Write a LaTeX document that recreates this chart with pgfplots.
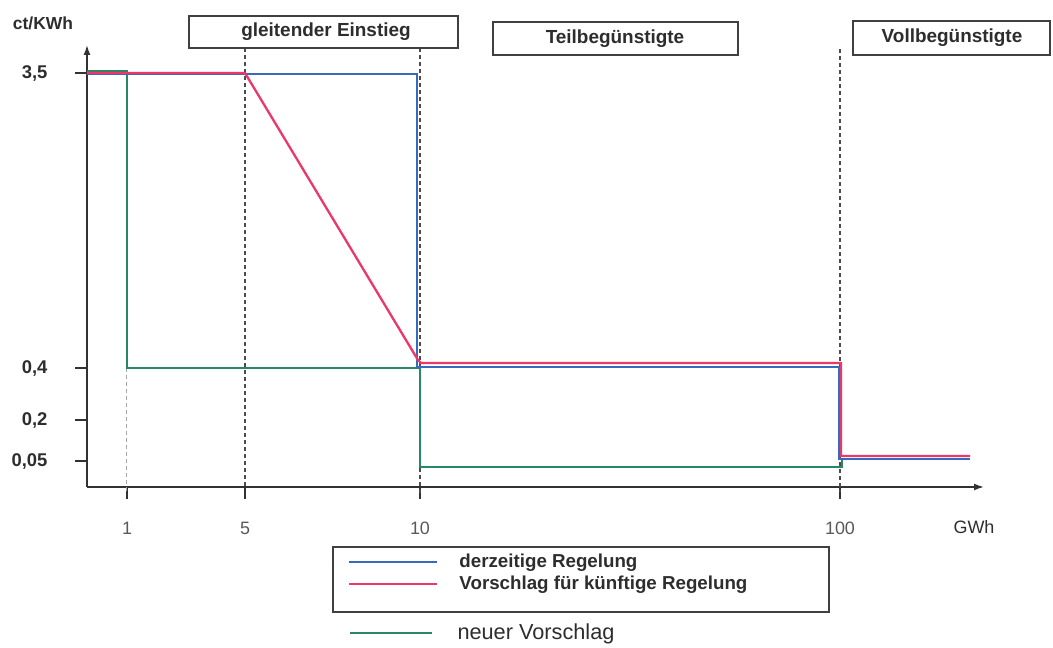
\documentclass[border=0pt]{standalone}
\usepackage{pgfplots}
\pgfplotsset{compat=1.18}
\usepackage{fontspec}
\setmainfont{Liberation Sans}
\usetikzlibrary{arrows.meta}
\definecolor{cblue}{RGB}{55,105,190}
\definecolor{cred}{RGB}{235,55,105}
\definecolor{cgreen}{RGB}{40,135,100}
\definecolor{axisgray}{RGB}{50,50,50}
\definecolor{txt}{RGB}{45,45,45}
\begin{document}
\begin{tikzpicture}
\begin{axis}[
  x=1bp, y=1bp, scale only axis,
  xmin=0, xmax=897, ymin=0, ymax=442,
  axis lines=left,
  axis line style={line width=1.6bp, draw=axisgray, -{Latex[length=10bp,width=7bp]}},
  clip=false,
  /pgf/number format/assume math mode=true,
  xtick={40,158,333,753},
  xticklabels={1,5,10,100},
  ytick={26,67,119,414},
  yticklabels={{0,05},{0,2},{0,4},{3,5}},
  tick align=outside,
  major tick length=12bp,
  tick style={line width=1.5bp, draw=axisgray},
  xticklabel style={font=\fontsize{18}{18}\selectfont, text=black!65, anchor=center, yshift=-29bp},
  yticklabel style={font=\fontsize{18.5}{18.5}\selectfont\bfseries, text=txt, anchor=east, xshift=-24bp},
  legend style={
    at={(axis cs:258,-64)}, anchor=north west,
    draw=none, fill=none,
    font=\fontsize{18.8}{21}\selectfont\bfseries,
    text=txt,
    row sep=3bp, column sep=20bp,
    nodes={inner sep=1bp, text height=13bp, text depth=4bp},
  },
  legend cell align=left,
  legend image code/.code={\draw[#1] (0bp,1bp) -- (88bp,1bp);},
]
% dashed reference lines
\draw[dash pattern=on 4bp off 3bp, line width=1.3bp, draw=black!70] (axis cs:158,439) -- (axis cs:158,0);
\draw[dash pattern=on 4bp off 3bp, line width=1.3bp, draw=black!70] (axis cs:333,439) -- (axis cs:333,-6);
\draw[dash pattern=on 4bp off 3bp, line width=1.3bp, draw=black!70] (axis cs:753,438) -- (axis cs:753,-5);
\draw[dash pattern=on 4bp off 3bp, line width=1bp, draw=black!35] (axis cs:40,119) -- (axis cs:40,-5);

\addplot[cgreen, line width=2.3bp, forget plot] coordinates {(0,416) (40,416) (40,119) (333,119) (333,20) (755,20) (755,28)};
\addplot[cblue, line width=2.3bp] coordinates {(0,413) (330,413) (330,120) (752,120) (752,28) (883,28)};
\addlegendentry{derzeitige Regelung}
\addplot[cred, line width=2.3bp] coordinates {(0,414) (158,414) (331,127) (334,124) (754,124) (754,31) (883,31)};
\addlegendentry{Vorschlag für künftige Regelung}

% region boxes
\draw[line width=1.4bp, draw=black!75] (axis cs:102,471) rectangle (axis cs:371,439);
\node[font=\fontsize{19}{21}\selectfont\bfseries, text=txt] at (axis cs:239,455) {gleitender Einstieg};
\draw[line width=1.4bp, draw=black!75] (axis cs:406,465) rectangle (axis cs:651,432);
\node[font=\fontsize{19}{21}\selectfont\bfseries, text=txt] at (axis cs:528,448) {Teilbegünstigte};
\draw[line width=1.4bp, draw=black!75] (axis cs:766,466) rectangle (axis cs:963,432);
\node[font=\fontsize{19}{21}\selectfont\bfseries, text=txt] at (axis cs:865,449) {Vollbegünstigte};

% axis titles
\node[font=\fontsize{17.5}{20}\selectfont\bfseries, text=txt] at (axis cs:-44,464) {ct/KWh};
\node[font=\fontsize{18}{18}\selectfont, text=txt] at (axis cs:887,-40) {GWh};

% legend frame and separate entry
\draw[line width=1.3bp, draw=black!75] (axis cs:246,-60) rectangle (axis cs:742,-125);
\draw[cgreen, line width=2.3bp] (axis cs:263,-146) -- (axis cs:345,-146);
\node[font=\fontsize{21.8}{24}\selectfont, text=txt, anchor=west] at (axis cs:367,-147) {neuer Vorschlag};

\coordinate (TL) at (axis cs:-87,487);
\coordinate (BR) at (axis cs:966,-161);
\end{axis}
\pgfresetboundingbox
\path (TL) rectangle (BR);
\end{tikzpicture}
\end{document}
